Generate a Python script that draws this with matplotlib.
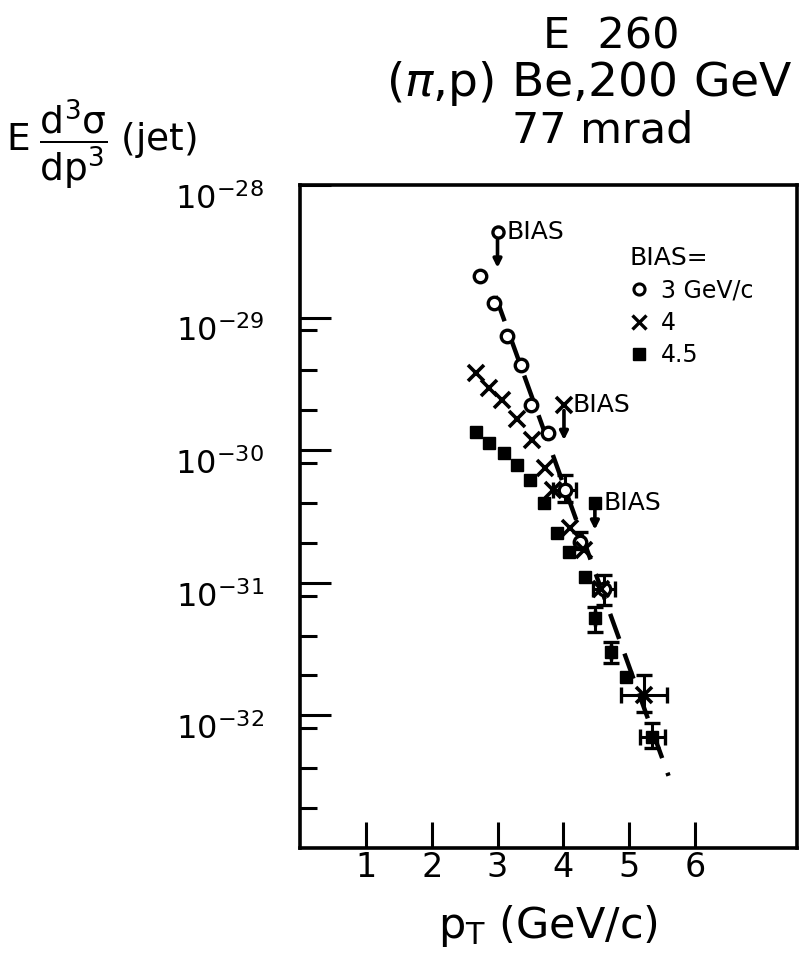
import numpy as np
import matplotlib
matplotlib.use("Agg")
import matplotlib.pyplot as plt
from matplotlib.lines import Line2D
from matplotlib.ticker import FixedLocator, NullFormatter
from matplotlib.transforms import ScaledTranslation

plt.rcParams['font.family'] = ['DejaVu Sans']
plt.rcParams['mathtext.default'] = 'regular'

# data
# BIAS = 3 GeV/c (open circles)
pt_3 = [2.74, 2.95, 3.15, 3.36, 3.51, 3.76, 4.02, 4.25, 4.62]
xs_3 = [2.06e-29, 1.29e-29, 7.26e-30, 4.40e-30, 2.19e-30, 1.35e-30, 5.0e-31, 2.04e-31, 8.9e-32]

# BIAS = 4 GeV/c (crosses)
pt_4 = [2.68, 2.87, 3.07, 3.30, 3.52, 3.72, 3.85, 4.10, 4.31, 4.58, 5.22]
xs_4 = [3.82e-30, 2.94e-30, 2.39e-30, 1.72e-30, 1.19e-30, 7.35e-31, 5.0e-31, 2.59e-31, 1.78e-31, 8.9e-32, 1.43e-32]

# BIAS = 4.5 GeV/c (filled squares)
pt_45 = [2.68, 2.87, 3.10, 3.29, 3.49, 3.70, 3.91, 4.08, 4.33, 4.48, 4.73, 4.96, 5.35]
xs_45 = [1.37e-30, 1.13e-30, 9.53e-31, 7.73e-31, 5.96e-31, 4.0e-31, 2.38e-31, 1.71e-31, 1.11e-31,
         5.43e-32, 3.01e-32, 1.95e-32, 6.87e-33]

# error bars on the high-pT points
err_pt = [4.02, 4.25, 4.62, 5.22, 4.48, 4.73, 5.35]
err_xs = [5.0e-31, 2.04e-31, 8.9e-32, 1.43e-32, 5.43e-32, 3.01e-32, 6.87e-33]
err_lo = [4.07e-31, 1.8e-31, 6.8e-32, 1.06e-32, 4.27e-32, 2.48e-32, 5.68e-33]
err_hi = [6.5e-31, 2.4e-31, 1.15e-31, 2.02e-32, 6.6e-32, 3.58e-32, 8.77e-33]
err_dpt = [0.18, 0.0, 0.17, 0.35, 0.0, 0.0, 0.19]

# bias thresholds: marker position and arrow end
bias_pt = [3.0, 4.01, 4.48]
bias_top = [4.43e-29, 2.19e-30, 4.0e-31]
bias_end = [2.37e-29, 1.19e-30, 2.51e-31]
bias_mk = ['o', 'x', 's']

# fitted line
fit_pt = [2.97, 5.6]
fit_xs = [1.45e-29, 3.5e-33]

fig = plt.figure(figsize=(8.09, 9.63), dpi=100)
ax = fig.add_axes([0.371, 0.1194, 0.614, 0.6886])
ax.set_yscale('log')
ax.set_xlim(0, 7.55)
ax.set_ylim(1e-33, 1e-28)

ax.plot(fit_pt, fit_xs, color='k', lw=3.2, dashes=(6, 3.5), zorder=1)

ax.errorbar(err_pt, err_xs, yerr=[np.array(err_xs) - np.array(err_lo), np.array(err_hi) - np.array(err_xs)],
            xerr=err_dpt, fmt='none', ecolor='k', elinewidth=2.2, capsize=6, capthick=2.4, zorder=2)

ax.plot(pt_3, xs_3, 'o', ms=9, mfc='white', mec='k', mew=2.4, zorder=3)
ax.plot(pt_4, xs_4, 'x', ms=11, mec='k', mew=2.6, zorder=3)
ax.plot(pt_45, xs_45, 's', ms=9, mfc='k', mec='k', zorder=3)

for x, top, end, mk in zip(bias_pt, bias_top, bias_end, bias_mk):
    ax.annotate('', xy=(x, end), xytext=(x, top),
                arrowprops=dict(arrowstyle='-|>', lw=2.6, color='k', mutation_scale=12,
                                shrinkA=4, shrinkB=0))
    if mk == 'o':
        ax.plot(x, top, mk, ms=8, mfc='white', mec='k', mew=2.4, zorder=4)
    elif mk == 'x':
        ax.plot(x, top, mk, ms=11, mec='k', mew=2.6, zorder=4)
    else:
        ax.plot(x, top, mk, ms=9, mfc='k', mec='k', zorder=4)
    ax.text(x + 0.13, top, 'BIAS', fontsize=18, va='center', ha='left')

# axes styling
for s in ax.spines.values():
    s.set_linewidth(2.6)
ax.set_xticks([1, 2, 3, 4, 5, 6])
ax.set_xticklabels(['1', '2', '3', '4', '5', '6'], fontsize=24)
ax.tick_params(axis='x', which='major', direction='in', length=19, width=2.2, pad=2)

ax.yaxis.set_major_locator(FixedLocator([1e-28, 1e-29, 1e-30, 1e-31, 1e-32]))
ax.set_yticklabels([r'$10^{-28}$', r'$10^{-29}$', r'$10^{-30}$', r'$10^{-31}$', r'$10^{-32}$'], fontsize=23)
minor = [m * 10.0 ** k for k in (-30, -31, -32, -33) for m in (8, 4, 2)]
ax.yaxis.set_minor_locator(FixedLocator(minor))
ax.yaxis.set_minor_formatter(NullFormatter())
ax.tick_params(axis='y', which='major', direction='in', length=22, width=2.2, pad=26)
ax.tick_params(axis='y', which='minor', direction='in', length=12, width=2.2)
for lab in ax.get_yticklabels():
    lab.set_transform(lab.get_transform() + ScaledTranslation(0, -8 / 72, fig.dpi_scale_trans))

ax.set_xlabel(r'$p_T$ (GeV/c)', fontsize=31, labelpad=14)

# legend
h = [Line2D([], [], ls='none', marker='o', ms=8, mfc='white', mec='k', mew=2.2),
     Line2D([], [], ls='none', marker='x', ms=10, mec='k', mew=2.4),
     Line2D([], [], ls='none', marker='s', ms=9, mfc='k', mec='k')]
leg = ax.legend(h, ['3 GeV/c', '4', '4.5'], title='BIAS=', loc='upper left',
                bbox_to_anchor=(0.64, 0.925), frameon=False, fontsize=17, title_fontsize=18,
                handlelength=0.8, handletextpad=0.5, labelspacing=0.35, borderpad=0)
leg._legend_box.align = 'left'

# titles
fig.text(0.755, 0.962, 'E  260', fontsize=31, ha='center', va='center')
fig.text(0.728, 0.913, r'($\it{\pi}$,p) Be,200 GeV', fontsize=34, ha='center', va='center')
fig.text(0.745, 0.864, '77 mrad', fontsize=31, ha='center', va='center')
fig.text(0.008, 0.849, r'$E\;\dfrac{d^3\sigma}{dp^3}\;$(jet)', fontsize=27, ha='left', va='center')

fig.savefig('out.png', dpi=100)
